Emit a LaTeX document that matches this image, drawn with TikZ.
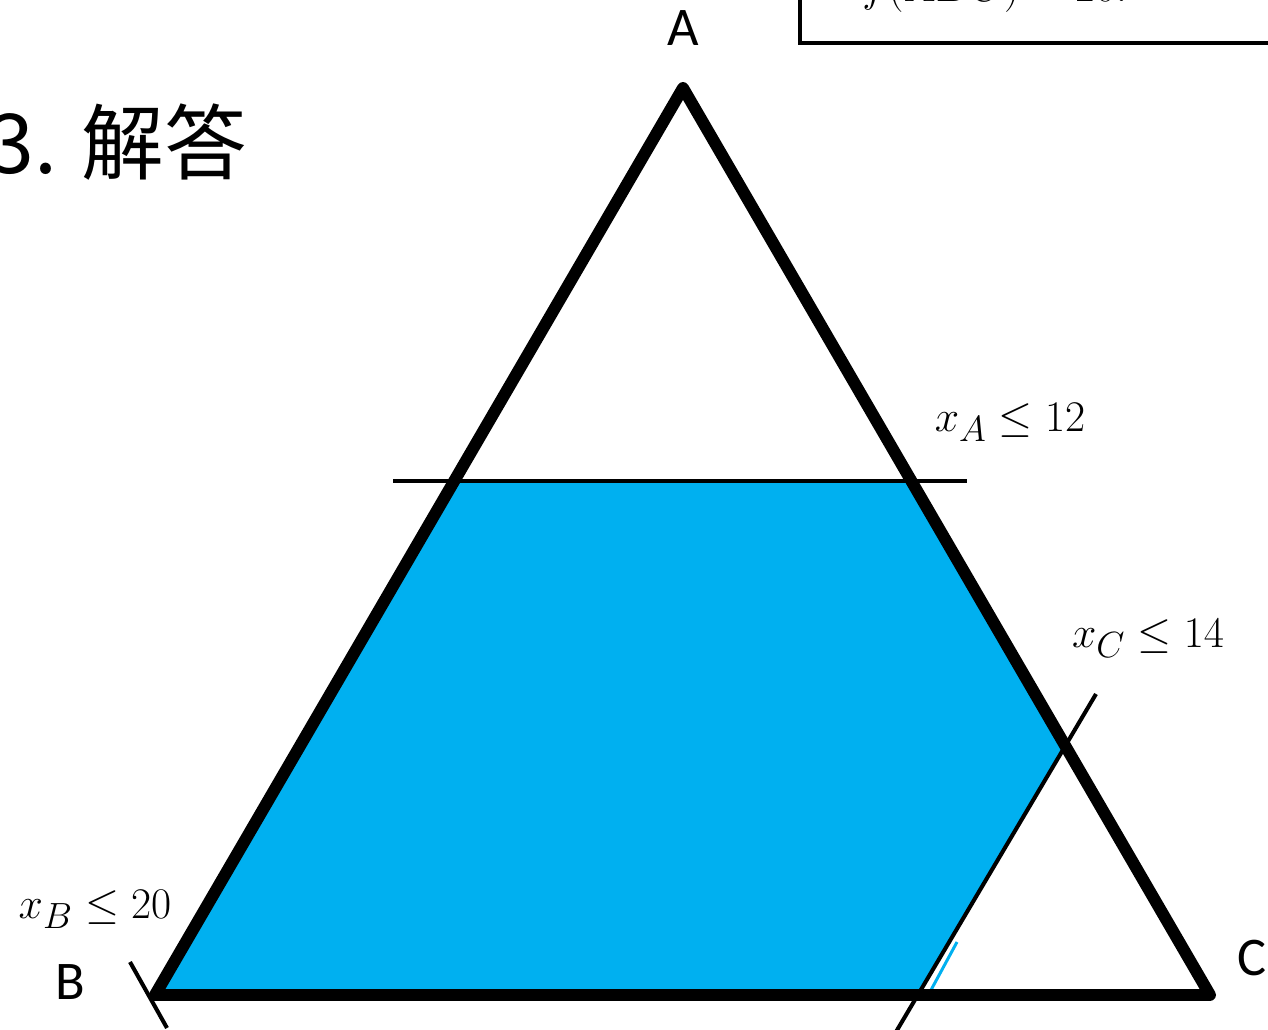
\documentclass[tikz,border=0pt]{standalone}
\usepackage{amsmath,amssymb}
\usepackage{fontspec}
\usepackage{xcolor}
\newfontfamily\cjk{Noto Sans CJK SC}
\newfontfamily\vertexfont{Carlito}
\definecolor{regionblue}{HTML}{00B0F0}

\begin{document}
\begin{tikzpicture}[
    x=0.02cm, y=-0.02cm,
    side/.style={draw, line width=6.8pt, line join=round, line cap=round},
    bound line/.style={draw, line width=2.3pt},
    vertex label/.style={inner sep=0pt, font=\vertexfont\fontsize{31}{36}\selectfont},
    cond label/.style={inner sep=0pt, font=\fontsize{28}{32}\selectfont}
  ]
  \useasboundingbox (0,0) rectangle (1268,1030);
  % triangle corners and cut points
  \coordinate (A) at (683,88);
  \coordinate (B) at (155,995);
  \coordinate (C) at (1210,995);
  \coordinate (hA) at (454,481);
  \coordinate (hC) at (911,481);
  \coordinate (cA) at (1065,746);
  \coordinate (cB) at (918,995);
  % feasible region
  \fill[regionblue] (hA) -- (hC) -- (cA) -- (cB) -- (B) -- cycle;
  \draw[regionblue, line width=1.7pt] (957,942) -- (931,990);
  % constraint lines
  \coordinate (xa1) at (393,481);
  \coordinate (xa2) at (967,481);
  \coordinate (xc1) at (1096,694);
  \coordinate (xc2) at (890,1042);
  \coordinate (xb1) at (130,962);
  \coordinate (xb2) at (167,1028);
  \draw[bound line] (xa1) -- (xa2);
  \draw[bound line] (xc1) -- (xc2);
  \draw[bound line] (xb1) -- (xb2);
  % triangle
  \draw[side] (A) -- (B) -- (C) -- cycle;
  % labels
  \node[vertex label] (labA) at (683,28) {A};
  \node[vertex label] (labB) at (70,982) {B};
  \node[vertex label] (labC) at (1252,958) {C};
  \node[cond label] (condA) at (1010,422) {$x_A \leq 12$};
  \node[cond label] (condC) at (1148,638) {$x_C \leq 14$};
  \node[cond label] (condB) at (95,909) {$x_B \leq 20$};
  % heading and answer box
  \node[anchor=west, inner sep=0pt, font=\cjk\fontsize{47}{52}\selectfont] (title) at (-12,142) {3. 解答};
  \coordinate (box1) at (800,-60);
  \coordinate (box2) at (1300,43);
  \draw[bound line] (box1) |- (box2);
  \node[cond label, anchor=base west] (result) at (862,2) {$f(ABC) = 20.$};
\end{tikzpicture}
\end{document}
